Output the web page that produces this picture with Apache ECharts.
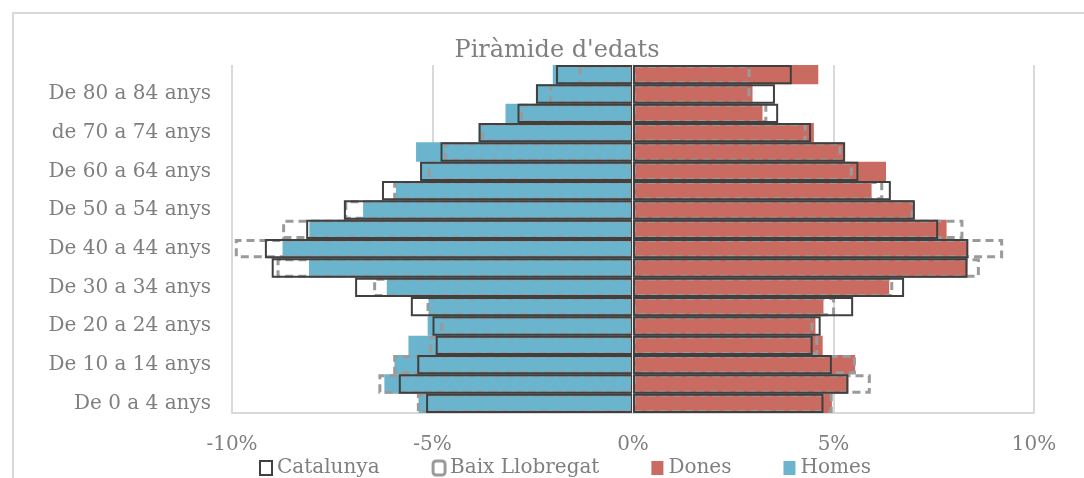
<!DOCTYPE html>
<html>
<head>
<meta charset="utf-8">
<script src="https://cdn.jsdelivr.net/npm/echarts@6/dist/echarts.min.js"></script>
<style>
  html, body { margin: 0; padding: 0; background: #fff; }
  #c1 { width: 1084px; height: 478px; }
</style>
</head>
<body>
<div id="c1"></div>
<script>
// grups d'edat, de baix a dalt
var edats = ['De 0 a 4 anys', 'De 5 a 9 anys', 'De 10 a 14 anys', 'De 15 a 19 anys',
    'De 20 a 24 anys', 'De 25 a 29 anys', 'De 30 a 34 anys', 'De 35 a 39 anys',
    'De 40 a 44 anys', 'De 45 a 49 anys', 'De 50 a 54 anys', 'De 55 a 59 anys',
    'De 60 a 64 anys', 'De 65 a 69 anys', 'de 70 a 74 anys', 'De 75 a 79 anys',
    'De 80 a 84 anys', '85 anys i més'];

// percentatges (homes en positiu, es giren a l'esquerra)
var homes = [5.35, 6.20, 5.95, 5.60, 5.12, 5.10, 6.14, 8.08, 8.74, 8.07, 6.73, 5.91, 5.31, 5.41, 3.85, 3.18, 2.42, 2.00];
var dones = [4.96, 5.37, 5.54, 4.73, 4.55, 4.75, 6.39, 8.34, 8.36, 7.82, 6.99, 5.95, 6.31, 5.27, 4.51, 3.23, 2.98, 4.62];
var catHomes = [5.16, 5.84, 5.38, 4.92, 5.00, 5.54, 6.93, 9.01, 9.18, 8.15, 7.21, 6.26, 5.31, 4.80, 3.85, 2.88, 2.42, 1.92];
var catDones = [4.75, 5.37, 4.96, 4.48, 4.68, 5.49, 6.76, 8.34, 8.36, 7.61, 7.03, 6.43, 5.62, 5.29, 4.44, 3.62, 3.54, 3.96];
var blHomes = [5.39, 6.35, 5.98, 5.08, 4.81, 5.15, 6.48, 8.89, 9.93, 8.75, 7.20, 5.98, 5.12, 4.71, 3.79, 2.82, 2.09, 1.36];
var blDones = [4.98, 5.93, 5.56, 4.62, 4.50, 5.04, 6.49, 8.65, 9.23, 8.24, 7.00, 6.24, 5.48, 5.20, 4.33, 3.35, 2.93, 2.93];

var xTicks = [-10, -5, 0, 5, 10];

function neg(a) { return a.map(function (v) { return -v; }); }

var txt = '#7f7f7f';
var font = 'DejaVu Serif';
var dash = [8, 5];

var ec = echarts.init(document.getElementById('c1'));
var option = {
    backgroundColor: '#fff',
    animation: false,
    textStyle: { fontFamily: font },
    title: {
        text: "Piràmide d'edats",
        left: 552,
        textAlign: 'center',
        top: 34,
        textStyle: { color: '#7f7f7f', fontSize: 24, fontWeight: 'normal', fontFamily: font }
    },
    //marc exterior
    graphic: [{
        type: 'rect',
        shape: { x: 13, y: 13, width: 1100, height: 500 },
        style: { fill: 'none', stroke: '#d9d9d9', lineWidth: 2 },
        silent: true
    }],
    legend: {
        top: 453,
        left: 254,
        itemGap: 52,
        itemWidth: 12,
        itemHeight: 14,
        textStyle: { color: txt, fontSize: 20, fontFamily: font },
        data: [
            { name: 'Catalunya', icon: 'rect', itemStyle: { color: '#fff', borderColor: '#404040', borderWidth: 2 } },
            { name: 'Baix Llobregat', icon: 'roundRect', itemStyle: { color: '#fff', borderColor: '#9a9a9a', borderWidth: 3 } },
            { name: 'Dones', icon: 'rect', itemStyle: { color: '#c96b60' } },
            { name: 'Homes', icon: 'rect', itemStyle: { color: '#6ab4cd' } }
        ]
    },
    grid: { left: 232, right: 50, top: 65, bottom: 65, containLabel: false },
    xAxis: {
        type: 'value',
        min: xTicks[0],
        max: xTicks[xTicks.length - 1],
        interval: 5,
        axisLine: { show: true, lineStyle: { color: '#d9d9d9', width: 2 } },
        axisTick: { show: false },
        splitLine: { show: true, lineStyle: { color: '#d9d9d9', width: 2 } },
        axisLabel: { color: txt, fontSize: 20, margin: 22, fontFamily: font, formatter: '{value}%' }
    },
    yAxis: {
        type: 'category',
        data: edats,
        axisLine: { show: false },
        axisTick: { show: false },
        axisLabel: { interval: 1, color: txt, fontSize: 20, margin: 21, fontFamily: font }
    },
    series: [
        { name: 'Homes', type: 'bar', data: neg(homes), barCategoryGap: '0%', barGap: '-100%',
          itemStyle: { color: '#6ab4cd' }, z: 2 },
        { name: 'Dones', type: 'bar', data: dones, barCategoryGap: '0%', barGap: '-100%',
          itemStyle: { color: '#c96b60' }, z: 2 },
        { name: 'Baix Llobregat', type: 'bar', data: neg(blHomes), barCategoryGap: '0%', barGap: '-100%',
          itemStyle: { color: 'transparent', borderColor: '#9a9a9a', borderWidth: 3, borderType: dash }, z: 3 },
        { name: 'Baix Llobregat', type: 'bar', data: blDones, barCategoryGap: '0%', barGap: '-100%',
          itemStyle: { color: 'transparent', borderColor: '#9a9a9a', borderWidth: 3, borderType: dash }, z: 3 },
        { name: 'Catalunya', type: 'bar', data: neg(catHomes), barCategoryGap: '0%', barGap: '-100%',
          itemStyle: { color: 'transparent', borderColor: '#404040', borderWidth: 2 }, z: 4 },
        { name: 'Catalunya', type: 'bar', data: catDones, barCategoryGap: '0%', barGap: '-100%',
          itemStyle: { color: 'transparent', borderColor: '#404040', borderWidth: 2 }, z: 5,
          markLine: {
              silent: true,
              symbol: 'none',
              label: { show: false },
              lineStyle: { color: '#eeeeee', width: 3, type: 'solid' },
              data: [{ xAxis: 0 }]
          }
        }
    ]
};
ec.setOption(option);
</script>
</body>
</html>
